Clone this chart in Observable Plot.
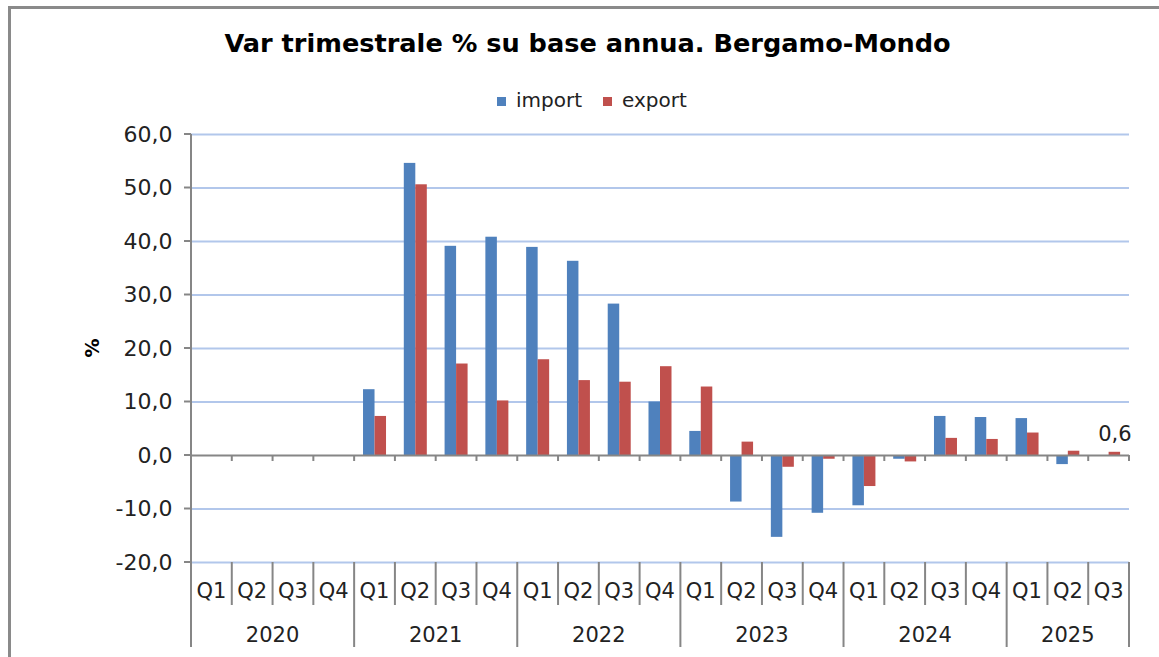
<!DOCTYPE html>
<html>
<head>
<meta charset="utf-8">
<script src="https://cdn.jsdelivr.net/npm/d3@7"></script>
<script src="https://cdn.jsdelivr.net/npm/@observablehq/plot@0.6"></script>
<style>
  html, body { margin: 0; padding: 0; background: #fff; }
  body { width: 1159px; height: 657px; overflow: hidden; position: relative; font-family: "DejaVu Sans", Verdana, sans-serif; }
  #frame { position: absolute; left: 8px; top: 6px; width: 1300px; height: 800px; border: 3px solid #8a8a8a; box-sizing: border-box; }
  #title { position: absolute; left: 0; width: 1175px; top: 31px; text-align: center; font-weight: bold; font-size: 25.6px; line-height: 25px; color: #000; white-space: nowrap; }
  #legend { position: absolute; left: 497px; top: 90px; display: flex; align-items: center; font-size: 20px; line-height: 20px; color: #222; white-space: nowrap; }
  #legend .sw { display: inline-block; width: 9px; height: 9px; margin-right: 10px; margin-top: 2px; }
  #legend .item { display: flex; align-items: center; margin-right: 21px; }
  #chart { position: absolute; left: 0; top: 110px; }
</style>
</head>
<body>
<div id="frame"></div>
<div id="title">Var trimestrale % su base annua. Bergamo-Mondo</div>
<div id="legend"></div>
<div id="chart"></div>
<script>
// ---- data ----
const years = ["2020", "2021", "2022", "2023", "2024", "2025"];
const quarters = [
  ["Q1", "Q2", "Q3", "Q4"],
  ["Q1", "Q2", "Q3", "Q4"],
  ["Q1", "Q2", "Q3", "Q4"],
  ["Q1", "Q2", "Q3", "Q4"],
  ["Q1", "Q2", "Q3", "Q4"],
  ["Q1", "Q2", "Q3"]
];
const importValues = [
  null, null, null, null,
  12.3, 54.6, 39.1, 40.8,
  38.9, 36.3, 28.3, 10.0,
  4.5, -8.7, -15.3, -10.8,
  -9.4, -0.7, 7.3, 7.1,
  6.9, -1.7, null
];
const exportValues = [
  null, null, null, null,
  7.3, 50.6, 17.1, 10.2,
  17.9, 14.0, 13.7, 16.6,
  12.8, 2.5, -2.2, -0.7,
  -5.8, -1.2, 3.2, 3.0,
  4.2, 0.8, 0.6
];
const seriesNames = ["import", "export"];
const seriesColors = ["#4F81BD", "#C0504D"];
const yTicks = [-20, -10, 0, 10, 20, 30, 40, 50, 60];
const yLabel = "%";

// ---- build table ----
const rows = [];
years.forEach((yr, yi) => quarters[yi].forEach(q => rows.push({ year: yr, q, key: yr + " " + q })));
rows.forEach((r, i) => { r.imp = importValues[i]; r.exp = exportValues[i]; });
const keys = rows.map(r => r.key);
const lastRow = rows[rows.length - 1];

// ---- legend ----
const legend = document.getElementById("legend");
seriesNames.forEach((n, i) => {
  const it = document.createElement("span");
  it.className = "item";
  it.innerHTML = `<span class="sw" style="background:${seriesColors[i]}"></span><span>${n}</span>`;
  legend.appendChild(it);
});

// ---- layout ----
const W = 1159, H = 547;
const mL = 191, mR = 30, mT = 24, mB = 95;
const bw = (W - mL - mR) / keys.length;
const barW = 11.5;
const outer = bw / 2 - barW;
const axisGray = "#868686";
const fmt = v => v.toFixed(1).replace(".", ",");

const axisMark = (index, scales, values, dim) => {
  const x = scales.x, y = scales.y;
  const band = typeof x.bandwidth === "function" ? x.bandwidth() : bw;
  const g = d3.create("svg:g");
  const yTop = y(60), yb = y(-20), y0 = y(0);
  const left = x(keys[0]);
  const right = x(keys[keys.length - 1]) + band;
  const line = (x1, y1, x2, y2) => g.append("line")
    .attr("x1", x1).attr("y1", y1).attr("x2", x2).attr("y2", y2)
    .attr("stroke", axisGray).attr("stroke-width", 2);
  // y axis line + ticks
  line(left, yTop, left, yb + 85);
  yTicks.forEach(t => line(left - 7, y(t), left, y(t)));
  // zero-line ticks
  keys.forEach((k, i) => { if (i > 0) line(x(k), y0, x(k), y0 + 6); });
  line(right, y0, right, y0 + 6);
  // category separators
  let idx = 0;
  years.forEach((yr, yi) => {
    const n = quarters[yi].length;
    const start = x(keys[idx]);
    const end = x(keys[idx + n - 1]) + band;
    for (let j = 1; j < n; j++) line(x(keys[idx + j]), yb, x(keys[idx + j]), yb + 43);
    line(end, yb, end, yb + 85);
    g.append("text").attr("x", (start + end) / 2).attr("y", yb + 80)
      .attr("text-anchor", "middle").attr("font-size", 21).attr("fill", "#222").text(yr);
    quarters[yi].forEach((q, j) => {
      g.append("text").attr("x", x(keys[idx + j]) + band / 2).attr("y", yb + 36)
        .attr("text-anchor", "middle").attr("font-size", 21).attr("fill", "#222").text(q);
    });
    idx += n;
  });
  // y label
  const cy = (yTop + yb) / 2;
  g.append("text").attr("transform", `translate(${left - 99},${cy}) rotate(-90)`)
    .attr("text-anchor", "middle").attr("dominant-baseline", "central")
    .attr("font-size", 19).attr("font-weight", "bold").attr("fill", "#000").text(yLabel);
  return g.node();
};

const plot = Plot.plot({
  width: W,
  height: H,
  marginLeft: mL,
  marginRight: mR,
  marginTop: mT,
  marginBottom: mB,
  style: { fontFamily: "'DejaVu Sans', Verdana, sans-serif", fontSize: "22px", background: "transparent", overflow: "visible", color: "#222" },
  x: { type: "band", domain: keys, padding: 0, round: false, axis: null },
  y: { domain: [-20, 60], ticks: yTicks, tickFormat: fmt, tickSize: 0, tickPadding: 19, label: null },
  marks: [
    Plot.ruleY(yTicks.filter(t => t !== 0), { stroke: "#b2c7eb", strokeWidth: 2 }),
    Plot.barY(rows, { x: "key", y: "imp", fill: seriesColors[0], insetLeft: outer, insetRight: bw / 2 }),
    Plot.barY(rows, { x: "key", y: "exp", fill: seriesColors[1], insetLeft: bw / 2, insetRight: outer }),
    Plot.ruleY([0], { stroke: axisGray, strokeWidth: 2 }),
    Plot.text([lastRow], { x: "key", y: "exp", text: d => fmt(d.exp), dx: barW / 2, dy: -11, lineAnchor: "bottom", fontSize: 21, fill: "#222" }),
    axisMark
  ]
});
document.getElementById("chart").appendChild(plot);
</script>
</body>
</html>
